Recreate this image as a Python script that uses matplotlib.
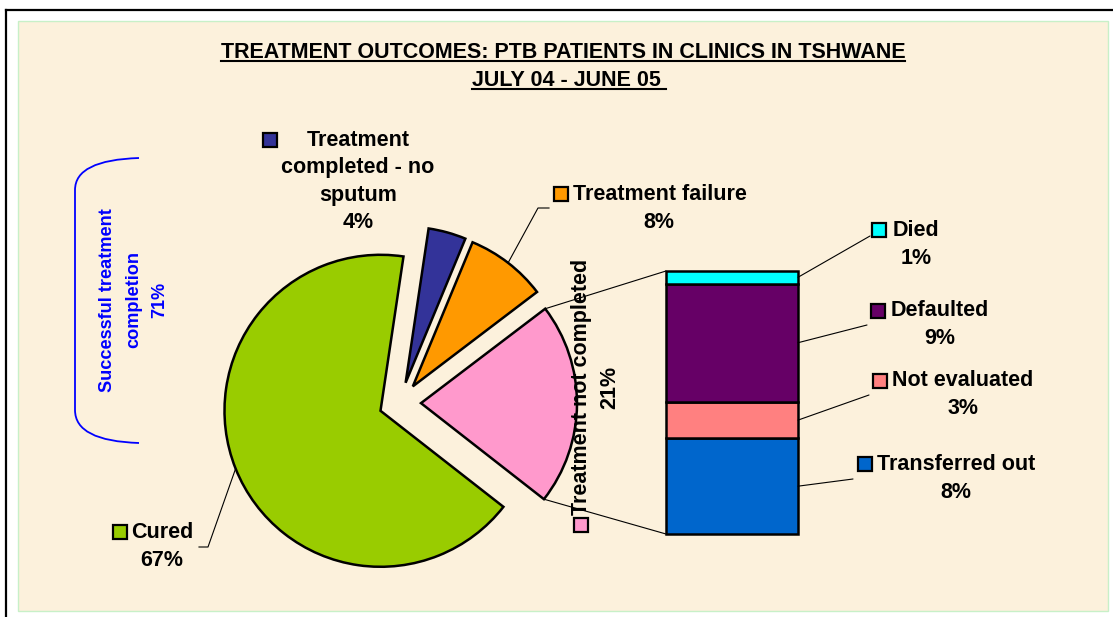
import matplotlib
matplotlib.use("Agg")
import matplotlib.pyplot as plt
from matplotlib.patches import Rectangle, ConnectionPatch, PathPatch
from matplotlib.path import Path
import numpy as np

W, H = 1113, 617

# main pie (% of PTB patients)
main_labels = ["Cured", "Treatment\ncompleted - no\nsputum", "Treatment failure", "Treatment not completed"]
main_values = [66.8, 3.9, 8.4, 20.9]
main_colors = ["#99cc00", "#333399", "#ff9900", "#ff99cc"]

# split of "treatment not completed", bottom to top of the bar
sub_labels = ["Transferred out", "Not evaluated", "Defaulted", "Died"]
sub_values = [7.6, 2.9, 9.4, 1.0]
sub_colors = ["#0066cc", "#ff8080", "#660066", "#00ffff"]

title_lines = ["TREATMENT OUTCOMES: PTB PATIENTS IN CLINICS IN TSHWANE", "JULY 04 - JUNE 05 "]
success_text = ["Successful treatment", "completion"]

plt.rcParams['font.family'] = ['Liberation Sans', 'DejaVu Sans']
plt.rcParams['font.weight'] = 'bold'
FS = 15.5

fig = plt.figure(figsize=(W / 100, H / 100), dpi=100, facecolor="white")
ax = fig.add_axes([0, 0, 1, 1])

# background panel + frame
ax.add_patch(Rectangle((18, 21), 1090, 590, facecolor="#fcf1dc", edgecolor="#c8f0c8", lw=1, zorder=0))
ax.plot([6, 6], [H, 10], color="black", lw=1.6, zorder=1)
ax.plot([6, W], [10, 10], color="black", lw=1.6, zorder=1)

wedges, _ = ax.pie(main_values, colors=main_colors, startangle=38, counterclock=True,
                   center=(400, 403), radius=156, explode=[21] * 4,
                   wedgeprops=dict(edgecolor="black", linewidth=1.8), frame=True)
ax.set_xlim(0, W)
ax.set_ylim(H, 0)
ax.set_aspect("equal")
ax.axis("off")


def arc_point(w, ang):
    a = np.radians(ang)
    return w.center[0] + w.r * np.cos(a), w.center[1] + w.r * np.sin(a)


def key(x, y, color, size=14):
    ax.add_patch(Rectangle((x - size / 2, y - size / 2), size, size, facecolor=color,
                           edgecolor="black", lw=1.6, zorder=5))


def pct(v, total):
    return f"{v / total * 100:.0f}%"


total = sum(main_values)

# pie labels
key(120, 532, main_colors[0])
ax.text(162, 532, main_labels[0], ha="center", va="center", fontsize=FS)
ax.text(162, 560, pct(main_values[0], total), ha="center", va="center", fontsize=FS)
mx, my = arc_point(wedges[0], (wedges[0].theta1 + wedges[0].theta2) / 2)
ax.plot([mx, 208, 199], [my, 547, 547], color="black", lw=0.8)

key(270, 140, main_colors[1])
for i, line in enumerate(main_labels[1].split("\n") + [pct(main_values[1], total)]):
    ax.text(358, 141 + 27 * i, line, ha="center", va="center", fontsize=FS)

key(561, 194, main_colors[2])
ax.text(660, 194, main_labels[2], ha="center", va="center", fontsize=FS)
ax.text(659, 223, pct(main_values[2], total), ha="center", va="center", fontsize=FS)
mx, my = arc_point(wedges[2], (wedges[2].theta1 + wedges[2].theta2) / 2)
ax.plot([mx, 538, 549], [my, 208, 208], color="black", lw=0.8)

key(581, 525, main_colors[3])
ax.text(581, 387, main_labels[3], ha="center", va="center", rotation=90, fontsize=FS)
ax.text(610, 387, pct(main_values[3], total), ha="center", va="center", rotation=90, fontsize=FS)

# bar of the "not completed" slice
ax2 = fig.add_axes([666 / W, 1 - 534 / H, 132 / W, 263 / H])
bottoms = np.concatenate([[0], np.cumsum(sub_values)[:-1]])
ax2.bar(0, sub_values, bottom=bottoms, width=1, color=sub_colors, edgecolor="black",
        linewidth=1.8, clip_on=False)
sub_total = sum(sub_values)
ax2.set_xlim(-0.5, 0.5)
ax2.set_ylim(0, sub_total)
ax2.axis("off")

pink = wedges[3]
for ang, yb in [(pink.theta1, sub_total), (pink.theta2, 0)]:
    fig.add_artist(ConnectionPatch(xyA=arc_point(pink, ang), coordsA=ax.transData,
                                   xyB=(-0.5, yb), coordsB=ax2.transData, color="black", lw=0.8))

# label layout for the bar segments: key, text centre, leader end
sub_pos = [((865, 464), 956, (853, 479)),
           ((880, 381), 963, (869, 395)),
           ((878, 311), 940, (867, 325)),
           ((879, 230), 916, (870, 236))]
for v, b, lab, col, (kxy, tx, end) in zip(sub_values, bottoms, sub_labels, sub_colors, sub_pos):
    key(kxy[0], kxy[1], col)
    ax.text(tx, kxy[1], lab, ha="center", va="center", fontsize=FS)
    ax.text(tx, kxy[1] + 28, pct(v, total), ha="center", va="center", fontsize=FS)
    fig.add_artist(ConnectionPatch(xyA=(0.5, b + v / 2), coordsA=ax2.transData,
                                   xyB=end, coordsB=ax.transData, color="black", lw=0.8))

# bracket for successful completion
verts = [(139, 158), (75, 160), (75, 190), (75, 410), (75, 441), (139, 443)]
codes = [Path.MOVETO, Path.CURVE3, Path.CURVE3, Path.LINETO, Path.CURVE3, Path.CURVE3]
ax.add_patch(PathPatch(Path(verts, codes), facecolor="none", edgecolor="#0000ff", lw=1.3))
success = main_values[0] + main_values[1]
for i, line in enumerate(success_text + [pct(success, total)]):
    ax.text(107 + 26.5 * i, 300, line, ha="center", va="center", rotation=90,
            fontsize=13.1, color="#0000ff")

# underlined title
renderer = fig.canvas.get_renderer()
for line, x, y in zip(title_lines, [563, 569], [58, 86]):
    t = ax.text(x, y, line, ha="center", va="baseline", fontsize=FS)
    bb = t.get_window_extent(renderer).transformed(ax.transData.inverted())
    ax.plot([bb.x0, bb.x1], [y + 3, y + 3], color="black", lw=1.5)

fig.savefig("out.png", dpi=100, facecolor="white")
